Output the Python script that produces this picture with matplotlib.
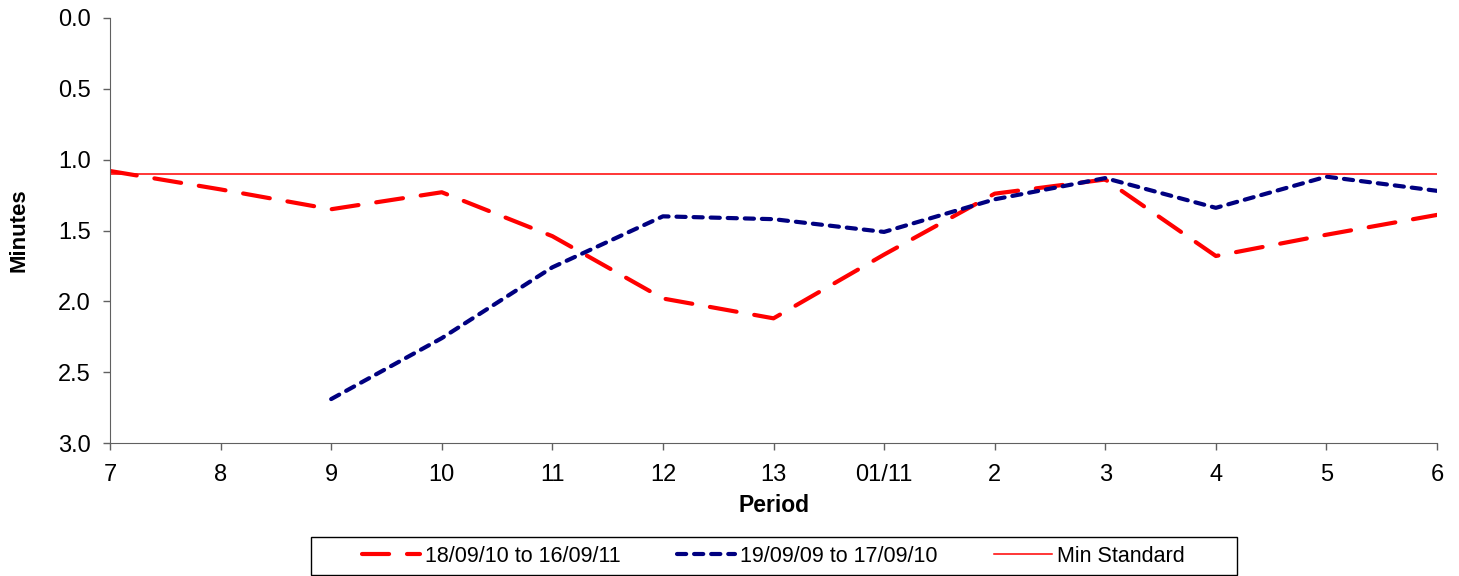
import matplotlib.pyplot as plt
from matplotlib.patches import Rectangle

plt.rcParams['font.family'] = ['Liberation Sans', 'DejaVu Sans']

periods = ['7', '8', '9', '10', '11', '12', '13', '01/11', '2', '3', '4', '5', '6']
recent = [1.08, 1.21, 1.35, 1.23, 1.54, 1.98, 2.12, 1.67, 1.24, 1.14, 1.68, 1.53, 1.39]
previous = [None, None, 2.69, 2.26, 1.76, 1.40, 1.42, 1.51, 1.28, 1.13, 1.34, 1.12, 1.22]
min_standard = 1.10

x = list(range(len(periods)))
prev_x = [i for i, v in zip(x, previous) if v is not None]
prev_y = [v for v in previous if v is not None]

W, H = 1459, 576
fig = plt.figure(figsize=(W / 100, H / 100), dpi=100)
ax = fig.add_axes([110 / W, 1 - 443 / H, (1437 - 110) / W, (443 - 18) / H])

l1, = ax.plot(x, recent, color='#ff0000', lw=3, dashes=(6.5, 4.3), dash_capstyle='round',
              label='18/09/10 to 16/09/11')
l2, = ax.plot(prev_x, prev_y, color='#000080', lw=3, dashes=(2.2, 1.9), dash_capstyle='round',
              label='19/09/09 to 17/09/10')
l3 = ax.axhline(min_standard, color='#ff0000', lw=1.1, label='Min Standard')

ax.set_xlim(0, len(periods) - 1)
ax.set_ylim(3.0, 0.0)
ax.set_xticks(x)
ax.set_xticklabels(periods)
ax.set_yticks([0.0, 0.5, 1.0, 1.5, 2.0, 2.5, 3.0])
ax.set_yticklabels(['0.0', '0.5', '1.0', '1.5', '2.0', '2.5', '3.0'])
ax.tick_params(axis='both', labelsize=17, length=5, color='#606060', width=1)
ax.tick_params(axis='x', pad=10)
ax.tick_params(axis='y', pad=9)
for side in ['top', 'right']:
    ax.spines[side].set_visible(False)
for side in ['left', 'bottom']:
    ax.spines[side].set_color('#606060')

ax.set_xlabel('Period', fontsize=16.5, fontweight='bold', va='center')
ax.xaxis.set_label_coords(0.5, (443 - 505) / 425)
ax.set_ylabel('Minutes', fontsize=16, fontweight='bold', va='center')
ax.yaxis.set_label_coords((19 - 110) / 1327, 0.5)

leg = fig.legend(handles=[l1, l2, l3], loc='center', ncol=3,
                 bbox_to_anchor=(773.5 / W, 1 - 556 / H),
                 fontsize=15.5, frameon=False,
                 handlelength=2.7, handletextpad=0.25, columnspacing=2.6,
                 borderaxespad=0)

fig.add_artist(Rectangle((311 / W, 1 - 575 / H), (1237 - 311) / W, 38 / H,
                         transform=fig.transFigure, fill=False, edgecolor='black', lw=1))

fig.savefig('out.png', dpi=100)
